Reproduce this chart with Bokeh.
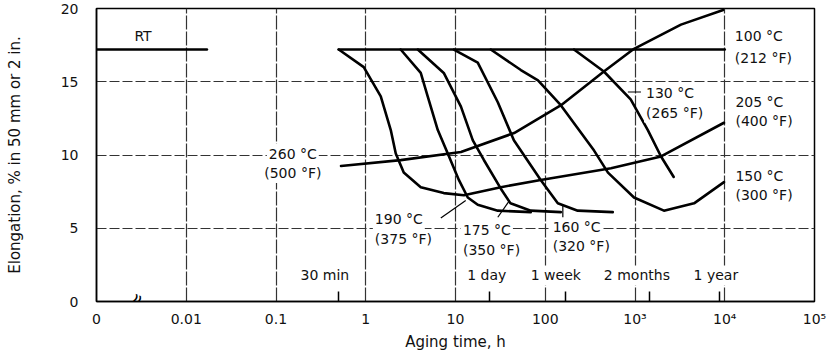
from bokeh.plotting import figure
from bokeh.models import Range1d, FixedTicker, Label, ColumnDataSource
from bokeh.embed import file_html
from bokeh.resources import INLINE

FONT = "DejaVu Sans"

# ---- data (aging time in hours, elongation in %) ----
x_ticks = [0.001, 0.01, 0.1, 1.0, 10.0, 100.0, 1000.0, 10000.0, 100000.0]
x_tick_labels = ["0", "0.01", "0.1", "1", "10", "100", "10³", "10⁴", "10⁵"]
y_ticks = [0, 5, 10, 15, 20]
marker_hours = [0.5, 24.0, 168.0, 1440.0, 8760.0]
marker_names = ["30 min", "1 day", "1 week", "2 months", "1 year"]

rt_t = [0.001, 0.017]
rt_e = [17.2, 17.2]

t100 = [0.5, 10000]
e100 = [17.2, 17.2]

t260 = [0.53, 2.45, 11.5, 45, 150, 450, 975, 3250, 9600]
e260 = [9.25, 9.65, 10.2, 11.5, 13.4, 15.7, 17.25, 18.9, 19.9]

t205 = [0.5, 0.95, 1.47, 1.9, 2.16, 2.65, 4.1, 7.4, 12.4, 32, 89, 540, 1950, 9800]
e205 = [17.2, 16.0, 14.0, 11.7, 10.1, 8.8, 7.8, 7.4, 7.25, 7.8, 8.3, 9.1, 9.9, 12.2]

t190 = [2.45, 4.1, 4.9, 6.35, 8.2, 10.9, 13.7, 17.7, 29.6, 69]
e190 = [17.2, 15.6, 14.0, 11.7, 10.1, 8.3, 7.1, 6.6, 6.2, 6.1]

t175 = [3.8, 7.4, 11.5, 15.6, 20.7, 32, 41, 69, 149]
e175 = [17.2, 15.6, 13.3, 11.0, 9.66, 7.7, 6.7, 6.2, 6.1]

t160 = [9.6, 17.7, 29.6, 44.7, 89, 138, 230, 565]
e160 = [17.2, 16.3, 13.6, 11.0, 8.3, 6.7, 6.2, 6.1]

t150 = [24.7, 53.5, 83, 149, 350, 500, 975, 2100, 4550, 9800]
e150 = [17.2, 15.8, 15.1, 13.4, 10.3, 8.8, 7.1, 6.2, 6.7, 8.15]

t130 = [209, 450, 895, 1390, 1950, 2700]
e130 = [17.2, 15.7, 13.8, 11.7, 9.9, 8.5]

curves = [(rt_t, rt_e), (t100, e100), (t260, e260), (t205, e205), (t190, e190),
          (t175, e175), (t160, e160), (t150, e150), (t130, e130)]

# ---- figure ----
p = figure(width=826, height=354, x_axis_type="log",
           x_range=Range1d(1e-3, 1e5), y_range=Range1d(0, 20),
           output_backend="svg", toolbar_location=None,
           min_border_left=96, min_border_right=12, min_border_top=8, min_border_bottom=53)
p.background_fill_color = "white"
p.border_fill_color = "white"
p.outline_line_color = "black"
p.outline_line_width = 1.5

p.xaxis.ticker = FixedTicker(ticks=x_ticks, minor_ticks=marker_hours)
p.xaxis.major_label_overrides = {float(k): v for k, v in zip(x_ticks, x_tick_labels)}
p.yaxis.ticker = FixedTicker(ticks=y_ticks)
p.xgrid.ticker = FixedTicker(ticks=x_ticks)
p.ygrid.ticker = FixedTicker(ticks=y_ticks)

for ax in (p.xaxis, p.yaxis):
    ax.axis_line_color = "black"
    ax.axis_line_width = 1.5
    ax.major_tick_in = 0
    ax.major_tick_out = 0
    ax.major_label_text_font = FONT
    ax.major_label_text_font_size = "14px"
    ax.major_label_text_color = "#111"
    ax.axis_label_text_font = FONT
    ax.axis_label_text_font_size = "15px"
    ax.axis_label_text_font_style = "normal"
    ax.axis_label_text_color = "#111"

p.xaxis.minor_tick_in = 10
p.xaxis.minor_tick_out = 0
p.xaxis.minor_tick_line_color = "black"
p.xaxis.minor_tick_line_width = 1.5
p.yaxis.minor_tick_line_color = None
p.xaxis.major_label_standoff = 9
p.yaxis.major_label_standoff = 18
p.xaxis.axis_label = "Aging time, h"
p.yaxis.axis_label = "Elongation, % in 50 mm or 2 in."
p.xaxis.axis_label_standoff = 3
p.yaxis.axis_label_standoff = 34

p.xgrid.grid_line_color = "#333333"
p.xgrid.grid_line_width = 1.2
p.xgrid.grid_line_dash = "14 2"
p.ygrid.grid_line_color = "#333333"
p.ygrid.grid_line_width = 1.2
p.ygrid.grid_line_dash = "10 3"

for t, e in curves:
    p.line(t, e, line_color="black", line_width=2.6, line_join="round", line_cap="round")

# ---- annotations ----
def lab(x, y, text, align="left", size="14px"):
    p.add_layout(Label(x=x, y=y, text=text, text_font=FONT, text_font_size=size,
                       text_align=align, text_baseline="middle", text_color="#111",
                       background_fill_color="white", background_fill_alpha=1.0,
                       padding=2))

lab(0.0033, 18.1, "RT", align="center")
lab(12300, 18.1, "100 °C")
lab(12300, 16.6, "(212 °F)")
lab(12500, 13.6, "205 °C")
lab(12500, 12.3, "(400 °F)")
lab(12500, 8.6, "150 °C")
lab(12500, 7.3, "(300 °F)")
lab(1260, 14.25, "130 °C")
lab(1260, 12.9, "(265 °F)")
lab(0.154, 10.1, "260 °C", align="center")
lab(0.154, 8.77, "(500 °F)", align="center")
lab(1.2, 5.6, "190 °C")
lab(1.2, 4.25, "(375 °F)")
lab(11.5, 4.9, "175 °C")
lab(11.5, 3.5, "(350 °F)")
lab(115, 5.07, "160 °C")
lab(115, 3.77, "(320 °F)")

marker_centers = [0.35, 22.3, 131, 1050, 7970]
for xc, name in zip(marker_centers, marker_names):
    lab(xc, 1.78, name, align="center")

# leader lines from labels to curves
leaders = dict(x0=[833, 6.86, 29.6, 157], y0=[14.3, 5.7, 5.75, 5.5],
               x1=[1165, 13.0, 39, 157], y1=[14.3, 6.9, 6.8, 6.6])
p.segment("x0", "y0", "x1", "y1", source=ColumnDataSource(leaders),
          line_color="black", line_width=1.2)

# axis break mark
p.add_layout(Label(x=0.00274, y=0.05, text="≈", text_font=FONT, text_font_size="20px",
                   text_align="center", text_baseline="middle",
                   angle=1.15, text_color="black", level="overlay"))

open("out.html", "w").write(file_html(p, INLINE))
